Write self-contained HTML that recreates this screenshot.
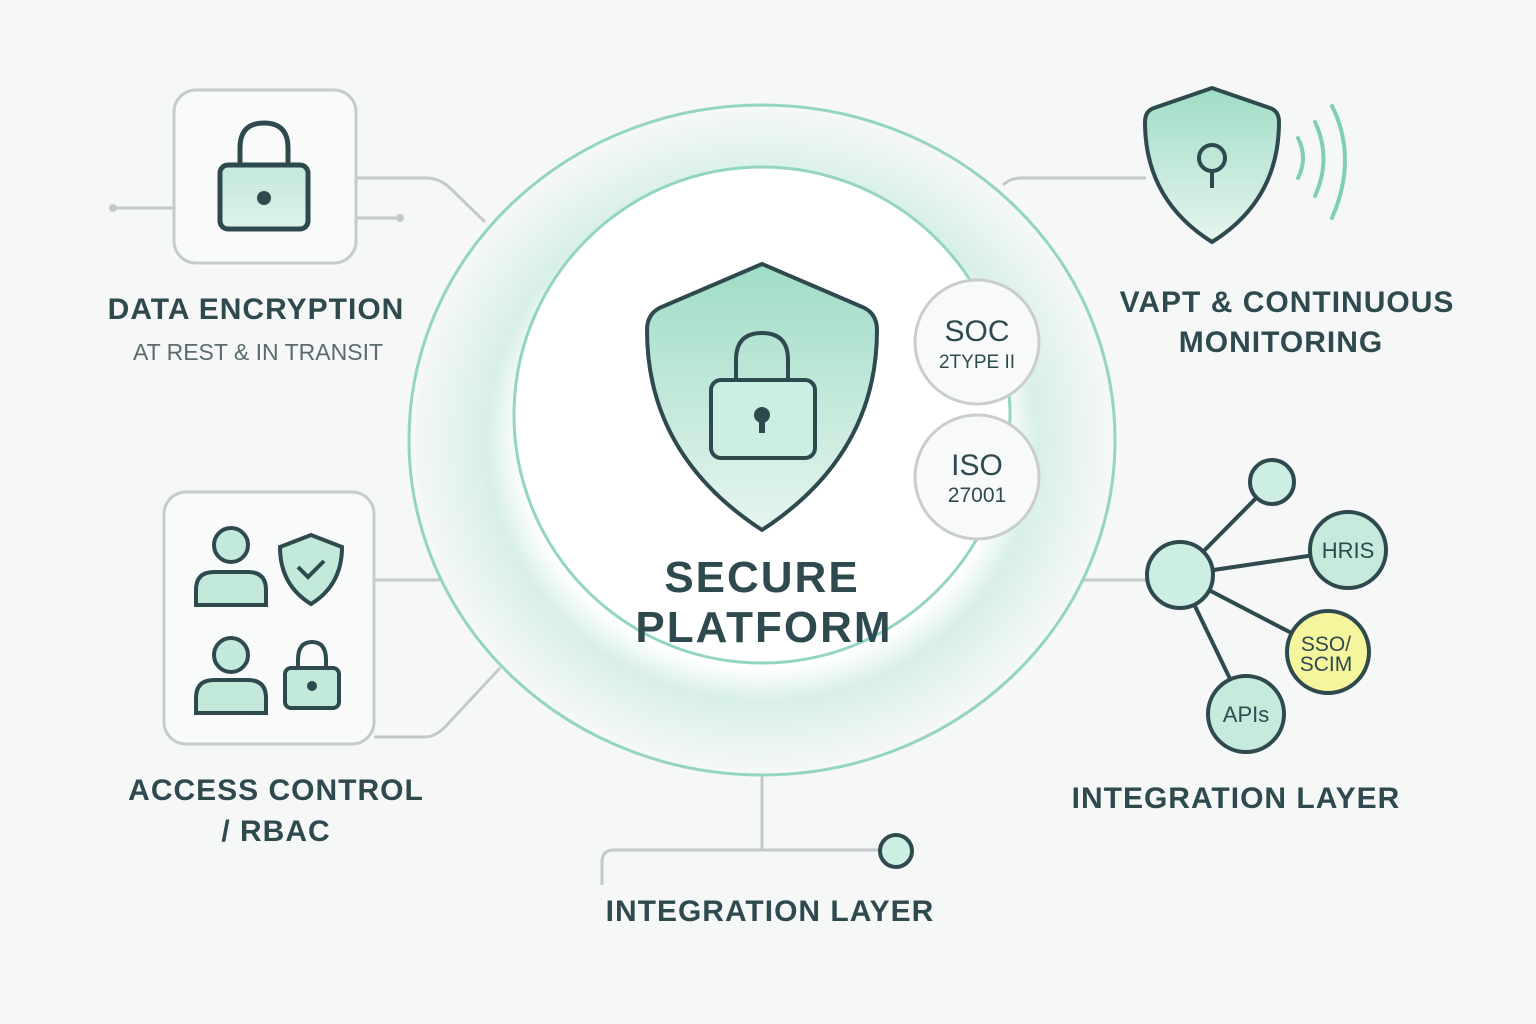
<!DOCTYPE html>
<html><head><meta charset="utf-8"><style>
html,body{margin:0;padding:0;background:#f6f7f7}
svg{display:block}
text{font-family:"Liberation Sans",sans-serif;fill:#2f4a4f;font-weight:bold}
text.n{font-weight:normal}
</style></head><body>
<svg width="1536" height="1024" viewBox="0 0 1536 1024" xmlns="http://www.w3.org/2000/svg">
<defs>
<radialGradient id="glow" cx="50%" cy="50%" r="50%">
<stop offset="0.68" stop-color="#ffffff"/>
<stop offset="0.78" stop-color="#d8f0e6"/>
<stop offset="1" stop-color="#f6f8f8"/>
</radialGradient>
<linearGradient id="mint" x1="0" y1="0" x2="0" y2="1">
<stop offset="0" stop-color="#9fdcc6"/><stop offset="1" stop-color="#e6f5ef"/>
</linearGradient>
<linearGradient id="mint2" x1="0" y1="0" x2="0" y2="1">
<stop offset="0" stop-color="#c2e9da"/><stop offset="1" stop-color="#ddf2ea"/>
</linearGradient>
</defs>
<rect width="1536" height="1024" fill="#f6f7f7"/>
<g fill="none" stroke="#c4c9cc" stroke-width="3">
<path d="M113 208 H173"/><path d="M356 178 H425 Q440 178 450 188 L485 222"/><path d="M356 218 H400"/>
<path d="M1003 185 Q1010 178 1022 178 H1146"/>
<path d="M374 580 H450"/><path d="M374 737 H425 Q435 737 445 727 L500 668"/>
<path d="M985 580 H1146"/>
<path d="M762 775 V850"/><path d="M602 885 V862 Q602 850 614 850 H880"/>
</g>
<circle cx="113" cy="208" r="4" fill="#c4c9cc"/><circle cx="400" cy="218" r="4" fill="#c4c9cc"/>
<ellipse cx="762" cy="440" rx="353" ry="335" fill="url(#glow)" stroke="#93d5c0" stroke-width="3"/>
<circle cx="762" cy="415" r="248" fill="#ffffff" stroke="#93d5c0" stroke-width="3"/>
<path d="M762 264 L860 306 Q877 312 877 330 Q877 455 762 530 Q647 455 647 330 Q647 312 664 306 Z" fill="url(#mint)" stroke="#2f4a4f" stroke-width="4" stroke-linejoin="round"/>
<path d="M736 380 V360 Q736 333 762 333 Q788 333 788 360 V380" fill="none" stroke="#2f4a4f" stroke-width="4"/>
<rect x="711" y="380" width="104" height="78" rx="10" fill="#cdeee2" stroke="#2f4a4f" stroke-width="4"/>
<circle cx="762" cy="415" r="8" fill="#2f4a4f"/><rect x="759" y="415" width="6" height="18" fill="#2f4a4f"/>
<text x="762" y="592" font-size="44" text-anchor="middle" letter-spacing="2">SECURE</text>
<text x="764" y="642" font-size="44" text-anchor="middle" letter-spacing="2">PLATFORM</text>
<circle cx="977" cy="342" r="62" fill="#f8f9f9" stroke="#c9cdcf" stroke-width="3"/>
<text class="n" x="977" y="341" font-size="30" text-anchor="middle">SOC</text>
<text class="n" x="977" y="368" font-size="19" text-anchor="middle">2TYPE II</text>
<circle cx="977" cy="477" r="62" fill="#f8f9f9" stroke="#c9cdcf" stroke-width="3"/>
<text class="n" x="977" y="475" font-size="30" text-anchor="middle">ISO</text>
<text class="n" x="977" y="502" font-size="21" text-anchor="middle">27001</text>
<rect x="174" y="90" width="182" height="173" rx="22" fill="#f9fafa" stroke="#c6cbce" stroke-width="3"/>
<path d="M240 165 V148 Q240 123 264 123 Q288 123 288 148 V165" fill="none" stroke="#2f4a4f" stroke-width="5"/>
<rect x="220" y="165" width="88" height="64" rx="8" fill="url(#mint2)" stroke="#2f4a4f" stroke-width="5"/>
<circle cx="264" cy="198" r="7" fill="#2f4a4f"/>
<text x="256" y="319" font-size="30" text-anchor="middle" letter-spacing="1">DATA ENCRYPTION</text>
<text class="n" x="258" y="360" font-size="23" text-anchor="middle" style="fill:#5a6b6f">AT REST &amp; IN TRANSIT</text>
<rect x="164" y="492" width="210" height="252" rx="22" fill="#f9fafa" stroke="#c6cbce" stroke-width="3"/>
<g stroke="#2f4a4f" stroke-width="4" fill="#c2e9da">
<circle cx="231" cy="545" r="17"/><path d="M196 605 V590 Q196 572 214 572 H248 Q266 572 266 590 V605 Z"/>
<circle cx="231" cy="655" r="17"/><path d="M196 713 V698 Q196 680 214 680 H248 Q266 680 266 698 V713 Z"/>
<path d="M311 535 L342 547 Q342 585 311 604 Q280 585 280 547 Z"/>
<path d="M298 567 L308 577 L324 561" fill="none"/>
<path d="M298 668 V660 Q298 642 312 642 Q326 642 326 660 V668" fill="none"/>
<rect x="285" y="668" width="54" height="40" rx="6"/>
</g>
<circle cx="312" cy="686" r="5" fill="#2f4a4f"/>
<text x="276" y="800" font-size="30" text-anchor="middle" letter-spacing="1">ACCESS CONTROL</text>
<text x="276" y="841" font-size="30" text-anchor="middle" letter-spacing="1">/ RBAC</text>
<path d="M1212 88 L1270 108 Q1279 111 1279 122 Q1279 200 1212 242 Q1145 200 1145 122 Q1145 111 1154 108 Z" fill="url(#mint)" stroke="#2f4a4f" stroke-width="4" stroke-linejoin="round"/>
<circle cx="1212" cy="158" r="13" fill="none" stroke="#2f4a4f" stroke-width="4"/>
<path d="M1212 171 V188" stroke="#2f4a4f" stroke-width="4"/>
<g fill="none" stroke="#7fcfb5" stroke-width="4" stroke-linecap="round">
<path d="M1298 138 Q1308 158 1298 178"/><path d="M1315 122 Q1332 158 1315 196"/><path d="M1332 106 Q1358 158 1332 218"/>
</g>
<text x="1287" y="312" font-size="30" text-anchor="middle" letter-spacing="1">VAPT &amp; CONTINUOUS</text>
<text x="1281" y="352" font-size="30" text-anchor="middle" letter-spacing="1">MONITORING</text>
<g stroke="#2f4a4f" stroke-width="4">
<path d="M1180 575 L1272 482 M1180 575 L1348 550 M1180 575 L1328 652 M1180 575 L1246 712"/>
<circle cx="1272" cy="482" r="22" fill="#cdeee2"/>
<circle cx="1180" cy="575" r="33" fill="#cdeee2"/>
<circle cx="1348" cy="550" r="38" fill="#c6eadc"/>
<circle cx="1328" cy="652" r="41" fill="#f4f59c"/>
<circle cx="1246" cy="714" r="38" fill="#c6eadc"/>
</g>
<text class="n" x="1348" y="558" font-size="22" text-anchor="middle">HRIS</text>
<text class="n" x="1326" y="651" font-size="21" text-anchor="middle">SSO/</text>
<text class="n" x="1326" y="671" font-size="21" text-anchor="middle">SCIM</text>
<text class="n" x="1246" y="722" font-size="22" text-anchor="middle">APIs</text>
<text x="1236" y="808" font-size="30" text-anchor="middle" letter-spacing="1">INTEGRATION LAYER</text>
<circle cx="896" cy="851" r="16" fill="#cdeee2" stroke="#2f4a4f" stroke-width="4"/>
<text x="770" y="921" font-size="30" text-anchor="middle" letter-spacing="1">INTEGRATION LAYER</text>
</svg>
</body></html>
